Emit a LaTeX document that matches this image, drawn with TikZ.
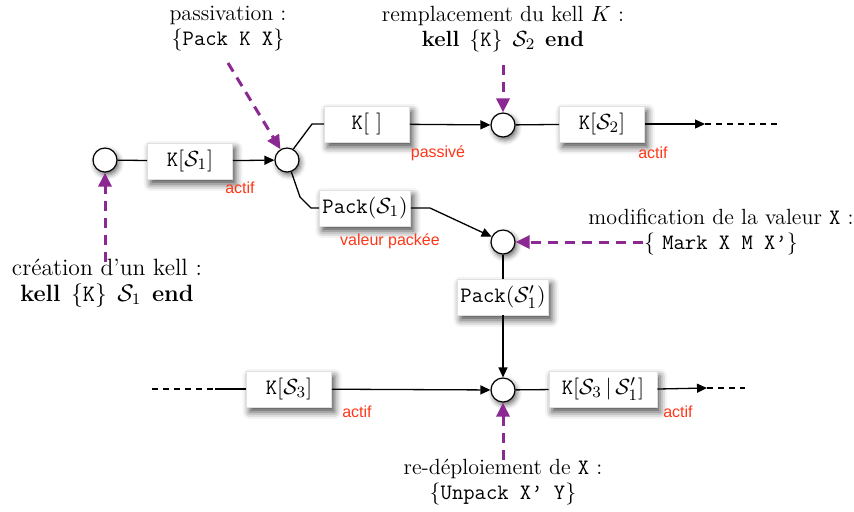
\documentclass[tikz,border=0pt]{standalone}
\usepackage{fontspec}
\newfontfamily\helv{Liberation Sans}
\usetikzlibrary{arrows.meta,shadows.blur}
\definecolor{pur}{RGB}{140,40,145}
\definecolor{lab}{RGB}{255,55,25}
\begin{document}
\begin{tikzpicture}[x=0.5pt,y=-0.5pt,
  every node/.style={font=\fontsize{11}{12.5}\selectfont},
  kbox/.style={draw=black!12, line width=0.3pt, fill=white, minimum width=42.5pt,
    minimum height=18pt, inner xsep=1.5pt, inner ysep=1pt,
    blur shadow={shadow xshift=1.5pt, shadow yshift=-2.5pt, shadow blur radius=3.5pt, shadow opacity=70}},
  circ/.style={circle, draw, line width=0.6pt, fill=white, minimum size=12pt, inner sep=0pt,
    blur shadow={shadow xshift=1pt, shadow yshift=-1.5pt, shadow blur radius=2.5pt, shadow opacity=60}},
  conn/.style={line width=0.65pt},
  arr/.style={conn, -{Triangle[length=5pt,width=4.5pt]}},
  dline/.style={conn, dash pattern=on 3pt off 2.5pt},
  parr/.style={draw=pur, line width=1.5pt, dash pattern=on 5pt off 3.5pt,
    -{Triangle[length=7pt,width=6.5pt]}},
  lbl/.style={text=lab, font=\helv\fontsize{8}{9.5}\selectfont, inner sep=0pt},
  txt/.style={align=center, inner sep=0pt}
]
\useasboundingbox (0,0) rectangle (854,511);

% circles
\node[circ] (c1) at (105,160) {};
\node[circ] (c2) at (287,160) {};
\node[circ] (c3) at (503,125) {};
\node[circ] (c4) at (503,242) {};
\node[circ] (c5) at (503,390) {};

% boxes
\node[kbox] (k1) at (190,161) {\texttt{K}$[\mathcal{S}_1]$};
\node[kbox] (k0) at (367,124) {\texttt{K}$[\ ]$};
\node[kbox] (k2) at (602,124) {\texttt{K}$[\mathcal{S}_2]$};
\node[kbox] (pa) at (365,208) {\texttt{Pack}$(\mathcal{S}_1)$};
\node[kbox] (pb) at (503,297) {\texttt{Pack}$(\mathcal{S}'_1)$};
\node[kbox] (k3) at (289,389) {\texttt{K}$[\mathcal{S}_3]$};
\node[kbox, minimum width=54pt] (k4) at (603,389) {\texttt{K}$[\mathcal{S}_3\,|\,\mathcal{S}'_1]$};

% red labels
\node[lbl] (l1) at (240,188) {actif};
\node[lbl] (l2) at (438,153) {passivé};
\node[lbl] (l3) at (653,153) {actif};
\node[lbl] (l4) at (390,241) {valeur packée};
\node[lbl] (l5) at (357,412) {actif};
\node[lbl] (l6) at (678,412) {actif};

% coordinates
\coordinate (b1) at (312,124);
\coordinate (b2) at (300,197);
\coordinate (b3) at (311,208);
\coordinate (b4) at (430,208);
\coordinate (e1) at (705,124);
\coordinate (e2) at (778,124);
\coordinate (d1) at (152,389);
\coordinate (d2) at (215,389);
\coordinate (f1) at (707,388);
\coordinate (f2) at (745,388);

% black connectors
\draw[conn] (c1) -- (k1);
\draw[arr] (k1) -- (c2);
\draw[conn] (c2.60) -- (b1) -- (k0.west);
\draw[arr] (k0) -- (c3);
\draw[conn] (c3) -- (k2);
\draw[arr] (k2.east) -- (e1);
\draw[dline] (e1) -- (e2);
\draw[conn] (c2.-70) -- (b2) -- (b3) -- (pa.west);
\draw[arr] (pa.east) -- (b4) -- (c4);
\draw[conn] (c4) -- (pb);
\draw[arr] (pb) -- (c5);
\draw[dline] (d1) -- (d2);
\draw[conn] (d2) -- (k3.west);
\draw[arr] (k3) -- (c5);
\draw[conn] (c5) -- (k4);
\draw[arr] (k4.east) -- (f1);
\draw[dline] (f1) -- (f2);

% annotations
\node[txt] (t1) at (228,29) {passivation :\\\{\texttt{Pack K X}\}};
\node[txt] (t2) at (503,29) {remplacement du kell $K$ :\\\textbf{kell}\hspace{0.45em}\{\texttt{K}\}\hspace{0.45em}$\mathcal{S}_2$\hspace{0.45em}\textbf{end}};
\node[txt] (t3) at (721,232) {modification de la valeur \texttt{X} :\\\{ \texttt{Mark X M X’}\}};
\node[txt, font=\fontsize{11.8}{13}\selectfont] (t4) at (107,283) {création d’un kell :\\\textbf{kell}\hspace{0.45em}\{\texttt{K}\}\hspace{0.45em}$\mathcal{S}_1$\hspace{0.45em}\textbf{end}};
\node[txt] (t5) at (503,482) {re-déploiement de \texttt{X} :\\\{\texttt{Unpack X’ Y}\}};

\coordinate (p1) at (228,63);
\coordinate (p2) at (503,65);
\coordinate (p3) at (643,242);
\coordinate (p4) at (105,262);
\coordinate (p5) at (503,460);

\draw[parr] (p1) -- (c2);
\draw[parr] (p2) -- (c3);
\draw[parr] (p3) -- (c4);
\draw[parr] (p4) -- (c1);
\draw[parr] (p5) -- (c5);
\end{tikzpicture}
\end{document}
